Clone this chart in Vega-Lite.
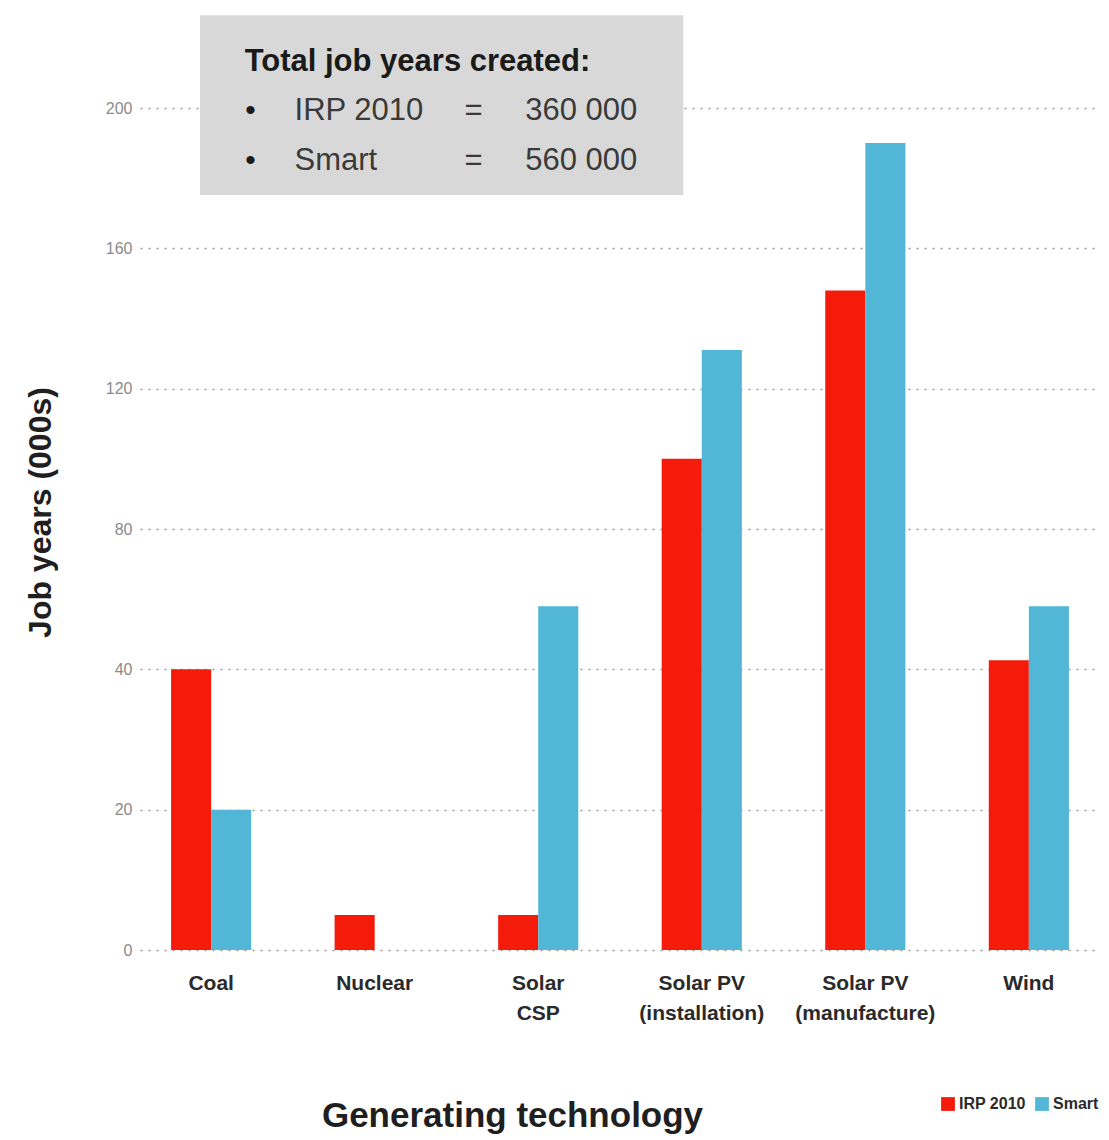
{
  "$schema": "https://vega.github.io/schema/vega-lite/v6.json",
  "width": 960,
  "height": 940,
  "autosize": "none",
  "padding": {"left": 140, "top": 10, "right": 9, "bottom": 190},
  "background": "white",
  "config": {
    "font": "'Liberation Sans', Arial, sans-serif",
    "view": {"stroke": null}
  },
  "datasets": {
    "jobs": [
      {"technology": "Coal", "scenario": "IRP 2010", "jobYears": 40},
      {"technology": "Coal", "scenario": "Smart", "jobYears": 20},
      {"technology": "Nuclear", "scenario": "IRP 2010", "jobYears": 5},
      {"technology": "Nuclear", "scenario": "Smart", "jobYears": 0},
      {"technology": "Solar CSP", "scenario": "IRP 2010", "jobYears": 5},
      {"technology": "Solar CSP", "scenario": "Smart", "jobYears": 58},
      {"technology": "Solar PV (installation)", "scenario": "IRP 2010", "jobYears": 100},
      {"technology": "Solar PV (installation)", "scenario": "Smart", "jobYears": 131},
      {"technology": "Solar PV (manufacture)", "scenario": "IRP 2010", "jobYears": 148},
      {"technology": "Solar PV (manufacture)", "scenario": "Smart", "jobYears": 190},
      {"technology": "Wind", "scenario": "IRP 2010", "jobYears": 42.6},
      {"technology": "Wind", "scenario": "Smart", "jobYears": 58}
    ],
    "anno": [{}]
  },
  "resolve": {"scale": {"x": "independent"}, "axis": {"x": "independent"}},
  "layer": [
    {
      "data": {"name": "jobs"},
      "mark": {"type": "bar"},
      "encoding": {
        "x": {
          "field": "technology",
          "type": "nominal",
          "sort": null,
          "scale": {"paddingInner": 0.51, "paddingOuter": 0.19},
          "axis": {
            "title": "Generating technology",
            "titleFontSize": 35,
            "titleFontWeight": "bold",
            "titleColor": "#1f1f1f",
            "titleX": 372,
            "titleY": 176,
            "titleBaseline": "alphabetic",
            "labelAngle": 0,
            "labelFontSize": 21,
            "labelFontWeight": "bold",
            "labelColor": "#2a2a2a",
            "labelLineHeight": 30,
            "labelPadding": 33,
            "labelBaseline": "middle",
            "labelExpr": "datum.value == 'Solar CSP' ? ['Solar','CSP'] : datum.value == 'Solar PV (installation)' ? ['Solar PV','(installation)'] : datum.value == 'Solar PV (manufacture)' ? ['Solar PV','(manufacture)'] : datum.value",
            "ticks": false,
            "domain": false,
            "grid": false
          }
        },
        "xOffset": {"field": "scenario", "type": "nominal", "sort": ["IRP 2010", "Smart"]},
        "y": {
          "field": "jobYears",
          "type": "quantitative",
          "scale": {
            "domain": [0, 20, 40, 80, 120, 160, 200, 228],
            "range": [940, 799.67, 659.33, 519, 378.67, 238.33, 98, 0],
            "zero": false,
            "nice": false
          },
          "axis": {
            "title": "Job years (000s)",
            "titleFontSize": 32,
            "titleFontWeight": "bold",
            "titleColor": "#1f1f1f",
            "titleX": -100,
            "titleY": 502,
            "titleBaseline": "middle",
            "values": [0, 20, 40, 80, 120, 160, 200],
            "labelFontSize": 16,
            "labelColor": "#8a8a8a",
            "labelPadding": 8,
            "ticks": false,
            "domain": false,
            "grid": true,
            "gridColor": "#9a9a9a",
            "gridDash": [2, 6],
            "gridWidth": 1.5
          }
        },
        "color": {
          "field": "scenario",
          "type": "nominal",
          "sort": ["IRP 2010", "Smart"],
          "scale": {"range": ["#f41b0b", "#52b6d6"]},
          "legend": {
            "title": null,
            "orient": "none",
            "direction": "horizontal",
            "legendX": 800,
            "legendY": 1086,
            "symbolType": "square",
            "symbolSize": 190,
            "symbolStrokeWidth": 0,
            "labelFontSize": 16,
            "labelFontWeight": "bold",
            "labelColor": "#2a2a2a",
            "labelOffset": 3,
            "columnPadding": 8
          }
        }
      }
    },
    {
      "data": {"name": "anno"},
      "mark": {"type": "rect", "color": "#d8d8d8"},
      "encoding": {
        "x": {"datum": 6.25, "type": "quantitative", "scale": {"domain": [0, 100]}, "axis": null},
        "x2": {"datum": 56.6},
        "y": {"datum": 226.5, "type": "quantitative"},
        "y2": {"datum": 175.2}
      }
    },
    {
      "data": {"name": "anno"},
      "mark": {"type": "text", "text": "Total job years created:", "align": "left", "baseline": "alphabetic", "fontSize": 31, "fontWeight": "bold", "color": "#1a1a1a"},
      "encoding": {
        "x": {"datum": 10.9, "type": "quantitative", "scale": {"domain": [0, 100]}, "axis": null},
        "y": {"datum": 210.5, "type": "quantitative"}
      }
    },
    {
      "data": {"name": "anno"},
      "mark": {"type": "text", "text": ["•", "•"], "align": "center", "baseline": "alphabetic", "lineHeight": 50, "fontSize": 30, "color": "#1a1a1a"},
      "encoding": {
        "x": {"datum": 11.5, "type": "quantitative", "scale": {"domain": [0, 100]}, "axis": null},
        "y": {"datum": 196.6, "type": "quantitative"}
      }
    },
    {
      "data": {"name": "anno"},
      "mark": {"type": "text", "text": ["IRP 2010", "Smart"], "align": "left", "baseline": "alphabetic", "lineHeight": 50, "fontSize": 31, "color": "#3a3a3a"},
      "encoding": {
        "x": {"datum": 16.1, "type": "quantitative", "scale": {"domain": [0, 100]}, "axis": null},
        "y": {"datum": 196.6, "type": "quantitative"}
      }
    },
    {
      "data": {"name": "anno"},
      "mark": {"type": "text", "text": ["=", "="], "align": "left", "baseline": "alphabetic", "lineHeight": 50, "fontSize": 31, "color": "#3a3a3a"},
      "encoding": {
        "x": {"datum": 33.8, "type": "quantitative", "scale": {"domain": [0, 100]}, "axis": null},
        "y": {"datum": 196.6, "type": "quantitative"}
      }
    },
    {
      "data": {"name": "anno"},
      "mark": {"type": "text", "text": ["360 000", "560 000"], "align": "right", "baseline": "alphabetic", "lineHeight": 50, "fontSize": 31, "color": "#3a3a3a"},
      "encoding": {
        "x": {"datum": 51.8, "type": "quantitative", "scale": {"domain": [0, 100]}, "axis": null},
        "y": {"datum": 196.6, "type": "quantitative"}
      }
    }
  ]
}
